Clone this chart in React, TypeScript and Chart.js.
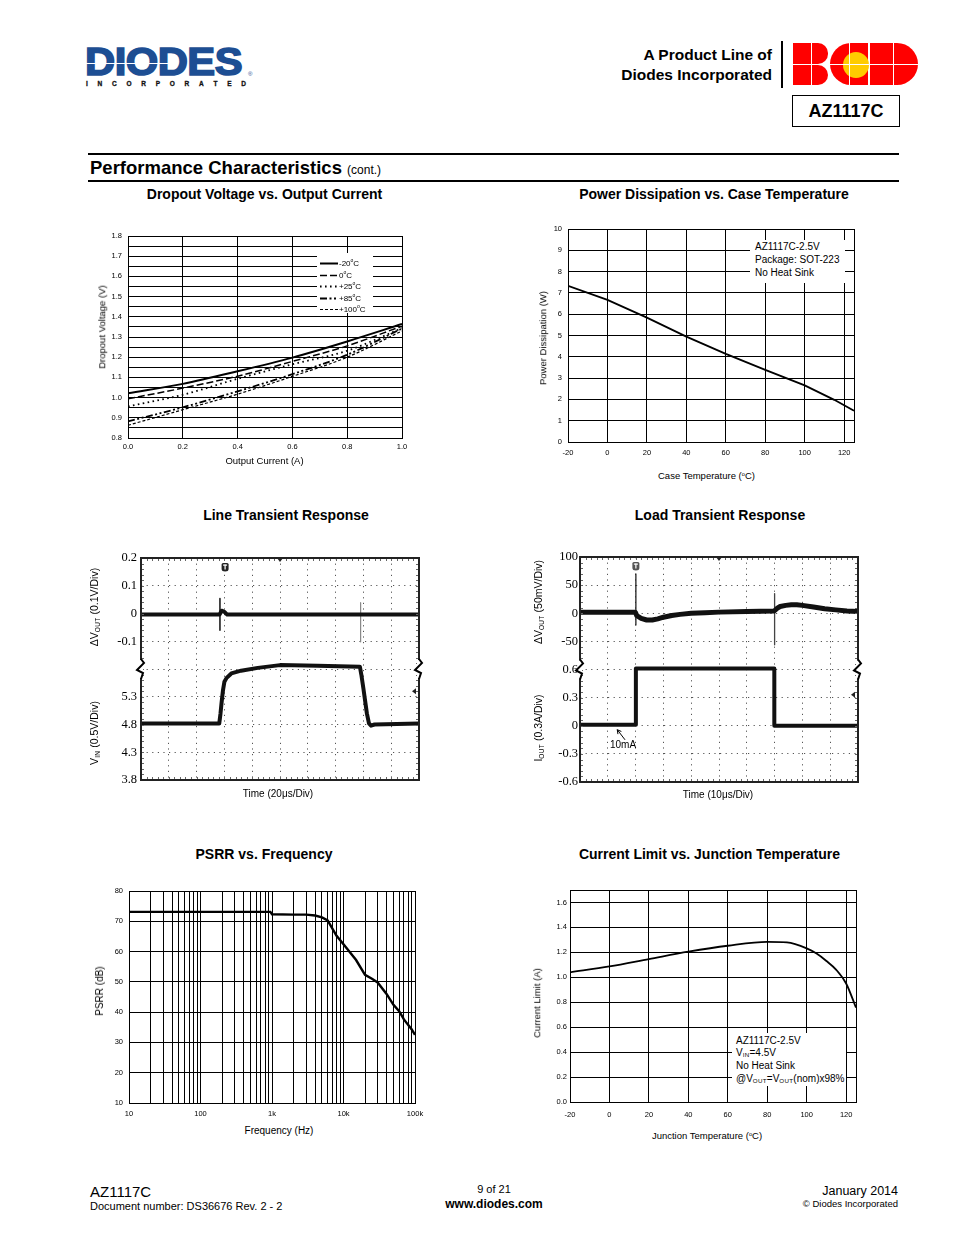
import React, { useEffect, useRef } from "react";
import { Chart, registerables } from "chart.js";

Chart.register(...registerables);

const SANS = '"Liberation Sans", Arial, Helvetica, sans-serif';
const SERIF = '"Liberation Serif", "Times New Roman", serif';
Chart.defaults.font.family = SANS;
Chart.defaults.color = "#000";

// ---------------- Dropout Voltage vs. Output Current ----------------
const dropoutCurrentA = [0, 0.2, 0.4, 0.6, 0.8, 1.0];
const dropoutM20 = [1.022, 1.068, 1.13, 1.198, 1.278, 1.364];
const dropout0 = [0.994, 1.047, 1.106, 1.179, 1.256, 1.354];
const dropout25 = [0.956, 1.014, 1.093, 1.165, 1.232, 1.344];
const dropout85 = [0.882, 0.952, 1.031, 1.116, 1.212, 1.342];
const dropout100 = [0.863, 0.94, 1.017, 1.105, 1.2, 1.33];
const dropoutLabels = ["-20°C", "0°C", "+25°C", "+85°C", "+100°C"];
const dropoutXVals = [0, 0.2, 0.4, 0.6, 0.8, 1.0];
const dropoutXLabels = ["0.0", "0.2", "0.4", "0.6", "0.8", "1.0"];
const dropoutYLabels = ["0.8", "0.9", "1.0", "1.1", "1.2", "1.3", "1.4", "1.5", "1.6", "1.7", "1.8"];

// ---------------- Power Dissipation vs. Case Temperature ----------------
const pdTempC = [-20, 0, 20, 40, 60, 80, 100, 115, 125];
const pdWatts = [7.33, 6.67, 5.84, 4.95, 4.14, 3.39, 2.66, 1.98, 1.47];
const pdXVals = [-20, 0, 20, 40, 60, 80, 100, 120];
const pdXLabels = ["-20", "0", "20", "40", "60", "80", "100", "120"];
const pdYVals = [0, 1, 2, 3, 4, 5, 6, 7, 8, 9, 10];
const pdYLabels = ["0", "1", "2", "3", "4", "5", "6", "7", "8", "9", "10"];

// ---------------- Line Transient Response (20us/div) ----------------
const lineTimeTicks = [0, 20, 40, 60, 80, 100, 120, 140, 160, 180, 200];
const scopeDivTicks = [0, 1, 2, 3, 4, 5, 6, 7, 8];
const lineYLabels = ["3.8", "4.3", "4.8", "5.3", "", "-0.1", "0", "0.1", "0.2"];
const lineDvT = [0, 56.5, 58, 60, 62, 157, 200];
const lineDvV = [-0.004, -0.004, 0.01, 0.006, -0.004, -0.004, -0.004];
const lineSpikeT = [56.8, 158];
const lineSpikeHi = [0.054, 0.039];
const lineSpikeLo = [-0.06, -0.102];
const lineVinT = [0, 56.3, 57.2, 58, 59, 60, 61.6, 65, 72, 84, 100, 127, 157.5, 158.5, 160, 161, 162.5, 164, 165.5, 168, 200];
const lineVinV = [4.82, 4.82, 5.0, 5.2, 5.42, 5.57, 5.64, 5.72, 5.77, 5.82, 5.87, 5.86, 5.84, 5.7, 5.45, 5.27, 5.0, 4.82, 4.78, 4.8, 4.82];

// ---------------- Load Transient Response (10us/div) ----------------
const loadTimeTicks = [0, 10, 20, 30, 40, 50, 60, 70, 80, 90, 100];
const loadYLabels = ["-0.6", "-0.3", "0", "0.3", "0.6", "-50", "0", "50", "100"];
const loadDvT = [0, 10, 19.9, 20.4, 21, 22, 24, 26, 28, 30, 33, 36, 40, 45, 50, 60, 69.8, 70.3, 71, 72, 74, 76, 78, 80, 84, 88, 92, 96, 100];
const loadDvMv = [2, 2, 2, -4, -6, -9, -12, -12, -10, -7, -4, -2, 0, 1, 2, 3, 4, 6, 9, 12, 14, 15, 15, 14, 11, 8, 6, 4, 3];
const loadSpikeT = [20.1, 70];
const loadSpikeHi = [70, 35];
const loadSpikeLo = [-21, -56];
const loadIT = [0, 20.1, 20.1, 69.9, 69.9, 100];
const loadIA = [0.012, 0.012, 0.61, 0.61, 0.0, 0.0];

// ---------------- PSRR vs. Frequency ----------------
const psrrFreqHz = [10, 100, 500, 950, 1000, 2000, 3000, 4000, 5000, 6000, 8000, 10000, 15000, 20000, 25000, 30000, 40000, 50000, 60000, 70000, 80000, 90000, 100000];
const psrrDb = [73.1, 73.1, 73.1, 73.1, 72.3, 72.2, 72.2, 71.9, 71.3, 70.3, 65.2, 62.4, 57.2, 52.3, 51.0, 49.8, 46.0, 42.4, 40.3, 37.6, 35.8, 34.3, 32.5];
const psrrDecades = [10, 100, 1000, 10000, 100000];
const psrrDecadeLabels = ["10", "100", "1k", "10k", "100k"];
const psrrMultiples = [1, 2, 3, 4, 5, 6, 7, 8, 9];
const psrrYVals = [10, 20, 30, 40, 50, 60, 70, 80];
const psrrYLabels = ["10", "20", "30", "40", "50", "60", "70", "80"];

// ---------------- Current Limit vs. Junction Temperature ----------------
const ilimTempC = [-20, 0, 20, 40, 60, 80, 90, 100, 105, 110, 115, 120, 125];
const ilimAmps = [1.04, 1.087, 1.146, 1.205, 1.253, 1.284, 1.28, 1.232, 1.19, 1.131, 1.06, 0.95, 0.757];
const ilimXVals = [-20, 0, 20, 40, 60, 80, 100, 120];
const ilimXLabels = ["-20", "0", "20", "40", "60", "80", "100", "120"];
const ilimYVals = [0, 0.2, 0.4, 0.6, 0.8, 1.0, 1.2, 1.4, 1.6];
const ilimYLabels = ["0.0", "0.2", "0.4", "0.6", "0.8", "1.0", "1.2", "1.4", "1.6"];

// ---------------- helpers ----------------
function labelOf(vals: number[], labels: string[], v: number): string {
  for (let i = 0; i < vals.length; i++) {
    if (Math.abs(vals[i] - v) <= 1e-6 * Math.max(1, Math.abs(vals[i]))) return labels[i];
  }
  return "";
}

function plainScale(type: string, min: number, max: number, gridVals: number[], labelVals: number[], labels: string[], pad: number, size = 7.5) {
  return {
    type,
    min,
    max,
    afterBuildTicks: (s: any) => {
      s.ticks = gridVals.map((v) => ({ value: v }));
    },
    ticks: {
      autoSkip: false,
      maxRotation: 0,
      minRotation: 0,
      padding: pad,
      color: "#000",
      font: { family: SANS, size },
      callback: (v: any) => labelOf(labelVals, labels, Number(v)),
    },
    grid: { color: "#000", lineWidth: 1, drawTicks: false },
    border: { display: false },
  };
}

const framePlugin = (color: string, width: number) => ({
  id: "frame",
  beforeDatasetsDraw(chart: any) {
    const { ctx, chartArea: a } = chart;
    ctx.save();
    ctx.strokeStyle = color;
    ctx.lineWidth = width;
    const off = width % 2 === 1 ? 0.5 : 0;
    ctx.strokeRect(Math.round(a.left) + off, Math.round(a.top) + off, Math.round(a.right - a.left), Math.round(a.bottom - a.top));
    ctx.restore();
  },
});

const dropoutLegendPlugin = {
  id: "dropoutLegend",
  afterDatasetsDraw(chart: any) {
    const { ctx, scales } = chart;
    const x = scales.x;
    const y = scales.y;
    const left = Math.round(x.getPixelForValue(0.69));
    const right = Math.round(x.getPixelForValue(0.894));
    const top = Math.round(y.getPixelForValue(1.716));
    const bottom = Math.round(y.getPixelForValue(1.419));
    ctx.save();
    ctx.fillStyle = "#fff";
    ctx.fillRect(left, top, right - left, bottom - top);
    chart.data.datasets.forEach((ds: any, i: number) => {
      const yy = Math.round(top + 10 + i * 11.5) + 0.5;
      ctx.strokeStyle = "#000";
      ctx.lineWidth = ds.borderWidth;
      ctx.setLineDash(ds.borderDash || []);
      ctx.beginPath();
      ctx.moveTo(left + 3, yy);
      ctx.lineTo(left + 21, yy);
      ctx.stroke();
      ctx.setLineDash([]);
      const parts = String(ds.label).split("°");
      ctx.fillStyle = "#000";
      ctx.textBaseline = "middle";
      ctx.font = `8px ${SANS}`;
      let tx = left + 22;
      ctx.fillText(parts[0], tx, yy);
      tx += ctx.measureText(parts[0]).width;
      ctx.font = `5px ${SANS}`;
      ctx.fillText("o", tx, yy - 3);
      tx += ctx.measureText("o").width;
      ctx.font = `8px ${SANS}`;
      ctx.fillText(parts[1] || "", tx, yy);
    });
    ctx.restore();
  },
};

function scopeDecor(trigT: number, trigColor: string, refDiv: number) {
  return {
    id: "scopeDecor",
    afterDatasetsDraw(chart: any) {
      const { ctx, chartArea: a, scales } = chart;
      const xs = scales.x;
      const ys = scales.y;
      const divW = (a.right - a.left) / 10;
      const divH = (a.bottom - a.top) / 8;
      ctx.save();
      // minor ticks along the frame
      ctx.strokeStyle = "#666";
      ctx.lineWidth = 1;
      ctx.beginPath();
      for (let i = 1; i < 50; i++) {
        const px = Math.round(a.left + (i * divW) / 5) + 0.5;
        ctx.moveTo(px, a.top);
        ctx.lineTo(px, a.top + 3);
        ctx.moveTo(px, a.bottom);
        ctx.lineTo(px, a.bottom - 3);
      }
      for (let i = 1; i < 40; i++) {
        const py = Math.round(a.top + (i * divH) / 5) + 0.5;
        ctx.moveTo(a.left, py);
        ctx.lineTo(a.left + 3, py);
        ctx.moveTo(a.right, py);
        ctx.lineTo(a.right - 3, py);
      }
      ctx.stroke();
      // frame
      ctx.strokeStyle = "#222";
      ctx.lineWidth = 2;
      ctx.strokeRect(a.left, a.top, a.right - a.left, a.bottom - a.top);
      // break marks
      const yb = ys.getPixelForValue(4);
      for (const bx of [a.left, a.right]) {
        ctx.fillStyle = "#fff";
        ctx.fillRect(bx - 2, yb - 9, 4, 18);
        ctx.strokeStyle = "#000";
        ctx.lineWidth = 2;
        ctx.beginPath();
        ctx.moveTo(bx, yb - 10);
        ctx.lineTo(bx + 3, yb - 6);
        ctx.lineTo(bx - 4, yb + 1);
        ctx.lineTo(bx + 2, yb + 4);
        ctx.lineTo(bx, yb + 10);
        ctx.stroke();
      }
      // trigger marker
      const tx = xs.getPixelForValue(trigT);
      ctx.fillStyle = trigColor;
      ctx.beginPath();
      const rx = tx - 3.5;
      const ry = a.top + 5;
      ctx.moveTo(rx + 1.5, ry);
      ctx.lineTo(rx + 5.5, ry);
      ctx.quadraticCurveTo(rx + 7, ry, rx + 7, ry + 1.5);
      ctx.lineTo(rx + 7, ry + 6);
      ctx.quadraticCurveTo(rx + 7, ry + 8.5, rx + 3.5, ry + 8.5);
      ctx.quadraticCurveTo(rx, ry + 8.5, rx, ry + 6);
      ctx.lineTo(rx, ry + 1.5);
      ctx.quadraticCurveTo(rx, ry, rx + 1.5, ry);
      ctx.fill();
      ctx.fillStyle = "#fff";
      ctx.fillRect(tx - 2, ry + 1.5, 4, 1.2);
      ctx.fillRect(tx - 0.6, ry + 1.5, 1.2, 5);
      // center marker at top
      const cx = a.left + 5 * divW;
      ctx.fillStyle = "#222";
      ctx.beginPath();
      ctx.moveTo(cx - 3, a.top);
      ctx.lineTo(cx + 3, a.top);
      ctx.lineTo(cx, a.top + 4);
      ctx.closePath();
      ctx.fill();
      // reference arrow at right
      const ry2 = ys.getPixelForValue(refDiv);
      ctx.beginPath();
      ctx.moveTo(a.right - 7, ry2);
      ctx.lineTo(a.right - 3, ry2 - 3);
      ctx.lineTo(a.right - 3, ry2 + 3);
      ctx.closePath();
      ctx.fill();
      ctx.restore();
    },
  };
}

const loadArrowPlugin = {
  id: "loadArrow",
  afterDatasetsDraw(chart: any) {
    const { ctx, scales } = chart;
    const tipX = scales.x.getPixelForValue(13.4);
    const tipY = scales.y.getPixelForValue(1.86);
    const tailX = scales.x.getPixelForValue(16.2);
    const tailY = scales.y.getPixelForValue(1.5);
    ctx.save();
    ctx.strokeStyle = "#000";
    ctx.lineWidth = 1;
    ctx.beginPath();
    ctx.moveTo(tailX, tailY);
    ctx.lineTo(tipX, tipY);
    const ang = Math.atan2(tipY - tailY, tipX - tailX);
    for (const d of [0.5, -0.5]) {
      ctx.moveTo(tipX, tipY);
      ctx.lineTo(tipX - 4.5 * Math.cos(ang + d), tipY - 4.5 * Math.sin(ang + d));
    }
    ctx.stroke();
    ctx.restore();
  },
};

function scopeScales(timeTicks: number[], yLabels: string[], labelPad: number) {
  const tMax = timeTicks[timeTicks.length - 1];
  const dash = [1.2, 4.4];
  return {
    x: {
      type: "linear",
      min: 0,
      max: tMax,
      afterBuildTicks: (s: any) => {
        s.ticks = timeTicks.map((v) => ({ value: v }));
      },
      ticks: { display: false, autoSkip: false },
      grid: { color: "#555", lineWidth: 1, drawTicks: false },
      border: { display: false, dash },
    },
    y: {
      type: "linear",
      min: 0,
      max: 8,
      afterBuildTicks: (s: any) => {
        s.ticks = scopeDivTicks.map((v) => ({ value: v }));
      },
      ticks: {
        autoSkip: false,
        padding: labelPad,
        color: "#000",
        font: { family: SERIF, size: 12.5 },
        callback: (v: any) => yLabels[Math.round(Number(v))] ?? "",
      },
      grid: { color: "#555", lineWidth: 1, drawTicks: false },
      border: { display: false, dash },
    },
  };
}

const trace = (data: any[], width: number, color = "#111") => ({
  data,
  borderColor: color,
  borderWidth: width,
  pointRadius: 0,
  tension: 0,
  fill: false,
  borderJoinStyle: "round",
});

// conversions from physical units to screen divisions
const lineDvDiv = (v: number) => 6 + v / 0.1;
const lineVinDiv = (v: number) => 2 + (v - 4.8) / 0.5;
const loadDvDiv = (mv: number) => 6 + mv / 50;
const loadIDiv = (a: number) => 2 + a / 0.3;

type Area = { x: number; y: number; w: number; h: number };
type Pad = { l: number; t: number; r: number; b: number };

function ChartBox({ area, pad, build }: { area: Area; pad: Pad; build: () => any }) {
  const ref = useRef<HTMLCanvasElement | null>(null);
  const W = area.w + pad.l + pad.r;
  const H = area.h + pad.t + pad.b;
  useEffect(() => {
    if (!ref.current) return;
    const cfg = build();
    cfg.options = cfg.options || {};
    cfg.options.responsive = false;
    cfg.options.maintainAspectRatio = false;
    cfg.options.animation = false;
    cfg.options.devicePixelRatio = 1;
    cfg.options.events = [];
    cfg.options.layout = { padding: { left: 0, top: pad.t, right: pad.r, bottom: 0 } };
    cfg.options.plugins = { ...(cfg.options.plugins || {}), legend: { display: false }, tooltip: { enabled: false } };
    cfg.options.scales.x.afterFit = (s: any) => {
      s.height = pad.b;
    };
    cfg.options.scales.y.afterFit = (s: any) => {
      s.width = pad.l;
    };
    const chart = new Chart(ref.current, cfg);
    return () => chart.destroy();
  }, []);
  return (
    <canvas
      ref={ref}
      width={W}
      height={H}
      style={{ position: "absolute", left: area.x - pad.l, top: area.y - pad.t, width: W, height: H }}
    />
  );
}

function Txt({ x, y, size, bold, align = "left", children, style }: any) {
  const tx = align === "center" ? "-50%" : align === "right" ? "-100%" : "0";
  return (
    <div
      style={{
        position: "absolute",
        left: x,
        top: y - size * 0.5,
        fontSize: size,
        lineHeight: `${size}px`,
        fontWeight: bold ? 700 : 400,
        whiteSpace: "nowrap",
        transform: `translateX(${tx})`,
        ...style,
      }}
    >
      {children}
    </div>
  );
}

function RotTxt({ cx, cy, size, children }: any) {
  return (
    <div
      style={{
        position: "absolute",
        left: cx,
        top: cy,
        fontSize: size,
        lineHeight: `${size}px`,
        whiteSpace: "nowrap",
        transform: "translate(-50%, -50%) rotate(-90deg)",
      }}
    >
      {children}
    </div>
  );
}

const Sub = ({ children }: any) => (
  <span style={{ fontSize: "0.62em", position: "relative", top: "0.3em", letterSpacing: "0.05em" }}>{children}</span>
);
const Deg = () => <span style={{ fontSize: "0.6em", position: "relative", top: "-0.55em" }}>o</span>;

export default function App() {
  const blue = "#1d4e93";
  const red = "#ff0000";
  return (
    <div
      style={{
        position: "absolute",
        left: 0,
        top: 0,
        width: 954,
        height: 1235,
        overflow: "hidden",
        background: "#fff",
        color: "#000",
        fontFamily: SANS,
      }}
    >
      {/* DIODES logo */}
      <div
        style={{
          position: "absolute",
          left: 85,
          top: 43,
          fontSize: 38,
          lineHeight: "38px",
          fontWeight: 700,
          color: blue,
          WebkitTextStroke: `1.6px ${blue}`,
          letterSpacing: -0.5,
          transform: "scaleX(1.1)",
          transformOrigin: "left top",
          whiteSpace: "nowrap",
        }}
      >
        DIODES
      </div>
      <div style={{ position: "absolute", left: 85, top: 62.5, width: 92, height: 1.5, background: "#fff" }} />
      <div style={{ position: "absolute", left: 248, top: 71, fontSize: 6, color: blue }}>®</div>
      <div
        style={{
          position: "absolute",
          left: 86,
          top: 80,
          width: 160,
          display: "flex",
          justifyContent: "space-between",
          fontSize: 6.5,
          lineHeight: "7px",
          fontWeight: 700,
          color: "#111",
          WebkitTextStroke: "0.3px #111",
        }}
      >
        {"INCORPORATED".split("").map((c, i) => (
          <span key={i}>{c}</span>
        ))}
      </div>

      {/* product line text */}
      <Txt x={772} y={55} size={15.5} bold align="right">A Product Line of</Txt>
      <Txt x={772} y={75} size={15.5} bold align="right">Diodes Incorporated</Txt>
      <div style={{ position: "absolute", left: 781, top: 41, width: 1.5, height: 47, background: "#000" }} />

      {/* BCD logo */}
      <div style={{ position: "absolute", left: 793, top: 43, width: 35, height: 20.5, background: red, borderRadius: "0 10px 10px 0" }} />
      <div style={{ position: "absolute", left: 793, top: 64.5, width: 35, height: 20.5, background: red, borderRadius: "0 10px 10px 0" }} />
      <div style={{ position: "absolute", left: 811, top: 43, width: 1, height: 42, background: "#fff" }} />
      <div style={{ position: "absolute", left: 830, top: 43, width: 38, height: 42, background: red, borderRadius: "21px 0 0 21px" }} />
      <div style={{ position: "absolute", left: 843, top: 52, width: 26, height: 26, background: "#ffcc00", borderRadius: "50%" }} />
      <div style={{ position: "absolute", left: 849, top: 43, width: 1, height: 42, background: "#fff" }} />
      <div style={{ position: "absolute", left: 870, top: 43, width: 48, height: 42, background: red, borderRadius: "0 21px 21px 0" }} />
      <div style={{ position: "absolute", left: 893, top: 43, width: 1, height: 42, background: "#fff" }} />
      <div style={{ position: "absolute", left: 793, top: 63.5, width: 125, height: 1, background: "#fff" }} />

      {/* part box */}
      <div
        style={{
          position: "absolute",
          left: 792,
          top: 95,
          width: 106,
          height: 30,
          border: "1.5px solid #000",
          display: "flex",
          alignItems: "center",
          justifyContent: "center",
          fontSize: 18,
          fontWeight: 700,
        }}
      >
        AZ1117C
      </div>

      {/* section heading */}
      <div style={{ position: "absolute", left: 88, top: 153, width: 811, height: 2, background: "#000" }} />
      <div style={{ position: "absolute", left: 88, top: 180, width: 811, height: 1.5, background: "#000" }} />
      <div style={{ position: "absolute", left: 90, top: 158, fontSize: 18.5, lineHeight: "20px", fontWeight: 700, whiteSpace: "nowrap" }}>
        Performance Characteristics <span style={{ fontSize: 12, fontWeight: 400 }}>(cont.)</span>
      </div>

      {/* chart titles */}
      <Txt x={264.5} y={194} size={14} bold align="center">Dropout Voltage vs. Output Current</Txt>
      <Txt x={714} y={194} size={14} bold align="center">Power Dissipation vs. Case Temperature</Txt>
      <Txt x={286} y={515} size={14} bold align="center">Line Transient Response</Txt>
      <Txt x={720} y={515} size={14} bold align="center">Load Transient Response</Txt>
      <Txt x={264} y={854} size={14} bold align="center">PSRR vs. Frequency</Txt>
      <Txt x={709.5} y={854} size={14} bold align="center">Current Limit vs. Junction Temperature</Txt>

      {/* Chart 1: Dropout */}
      <ChartBox
        area={{ x: 128, y: 236, w: 274, h: 202 }}
        pad={{ l: 30, t: 16, r: 14, b: 20 }}
        build={() => {
          const series = [dropoutM20, dropout0, dropout25, dropout85, dropout100];
          const styles = [
            { w: 2, dash: [] as number[] },
            { w: 1.5, dash: [7, 3] },
            { w: 1.8, dash: [1.6, 3.4] },
            { w: 1.8, dash: [7, 2.5, 2, 2.5, 2, 2.5] },
            { w: 1.2, dash: [3, 2] },
          ];
          const yVals = dropoutYLabels.map(Number);
          const yGrid = yVals.flatMap((v, i) => (i < yVals.length - 1 ? [v, v + 0.05] : [v]));
          return {
            type: "line",
            data: {
              datasets: series.map((arr, i) => ({
                label: dropoutLabels[i],
                data: dropoutCurrentA.map((x, j) => ({ x, y: arr[j] })),
                borderColor: "#000",
                borderWidth: styles[i].w,
                borderDash: styles[i].dash,
                pointRadius: 0,
                cubicInterpolationMode: "monotone",
                fill: false,
              })),
            },
            options: {
              scales: {
                x: plainScale("linear", 0, 1, dropoutXVals, dropoutXVals, dropoutXLabels, 4),
                y: plainScale("linear", 0.8, 1.8, yGrid, yVals, dropoutYLabels, 6),
              },
            },
            plugins: [framePlugin("#000", 1), dropoutLegendPlugin],
          };
        }}
      />
      <RotTxt cx={102} cy={327} size={9.5}>Dropout Voltage (V)</RotTxt>
      <Txt x={264.5} y={461} size={9.5} align="center">Output Current (A)</Txt>

      {/* Chart 2: Power dissipation */}
      <ChartBox
        area={{ x: 568, y: 229, w: 286, h: 213 }}
        pad={{ l: 30, t: 16, r: 14, b: 20 }}
        build={() => ({
          type: "line",
          data: {
            datasets: [
              {
                data: pdTempC.map((x, i) => ({ x, y: pdWatts[i] })),
                borderColor: "#000",
                borderWidth: 1.8,
                pointRadius: 0,
                tension: 0,
                fill: false,
              },
            ],
          },
          options: {
            scales: {
              x: plainScale("linear", -20, 125, pdXVals, pdXVals, pdXLabels, 6),
              y: plainScale("linear", 0, 10, pdYVals, pdYVals, pdYLabels, 6),
            },
          },
          plugins: [framePlugin("#000", 1)],
        })}
      />
      <div style={{ position: "absolute", left: 750, top: 240, width: 95, height: 43, background: "#fff" }} />
      <Txt x={755} y={247} size={10}>AZ1117C-2.5V</Txt>
      <Txt x={755} y={259.5} size={10}>Package: SOT-223</Txt>
      <Txt x={755} y={272.5} size={10}>No Heat Sink</Txt>
      <RotTxt cx={542.5} cy={338} size={9.5}>Power Dissipation (W)</RotTxt>
      <Txt x={706.5} y={476} size={9.5} align="center">
        Case Temperature (<Deg />C)
      </Txt>

      {/* Chart 3: Line transient */}
      <ChartBox
        area={{ x: 141, y: 558, w: 278, h: 222 }}
        pad={{ l: 40, t: 16, r: 10, b: 16 }}
        build={() => ({
          type: "line",
          data: {
            datasets: [
              trace(lineDvT.map((t, i) => ({ x: t, y: lineDvDiv(lineDvV[i]) })), 4),
              trace(lineVinT.map((t, i) => ({ x: t, y: lineVinDiv(lineVinV[i]) })), 4),
              trace([{ x: lineSpikeT[0], y: lineDvDiv(lineSpikeHi[0]) }, { x: lineSpikeT[0], y: lineDvDiv(lineSpikeLo[0]) }], 1.5, "#111"),
              trace([{ x: lineSpikeT[1], y: lineDvDiv(lineSpikeHi[1]) }, { x: lineSpikeT[1], y: lineDvDiv(lineSpikeLo[1]) }], 1.2, "#888"),
            ],
          },
          options: { scales: scopeScales(lineTimeTicks, lineYLabels, 4) },
          plugins: [scopeDecor(60.5, "#222", 3.2)],
        })}
      />
      <RotTxt cx={95} cy={607} size={10.5}>
        ΔV<Sub>OUT</Sub> (0.1V/Div)
      </RotTxt>
      <RotTxt cx={95} cy={733} size={10.5}>
        V<Sub>IN</Sub> (0.5V/Div)
      </RotTxt>
      <Txt x={278} y={794} size={10} align="center">Time (20μs/Div)</Txt>

      {/* Chart 4: Load transient */}
      <ChartBox
        area={{ x: 580, y: 557, w: 278, h: 225 }}
        pad={{ l: 40, t: 16, r: 10, b: 16 }}
        build={() => ({
          type: "line",
          data: {
            datasets: [
              trace(loadDvT.map((t, i) => ({ x: t, y: loadDvDiv(loadDvMv[i]) })), 5),
              trace(loadIT.map((t, i) => ({ x: t, y: loadIDiv(loadIA[i]) })), 4),
              trace([{ x: loadSpikeT[0], y: loadDvDiv(loadSpikeHi[0]) }, { x: loadSpikeT[0], y: loadDvDiv(loadSpikeLo[0]) }], 1.3, "#222"),
              trace([{ x: loadSpikeT[1], y: loadDvDiv(loadSpikeHi[1]) }, { x: loadSpikeT[1], y: loadDvDiv(loadSpikeLo[1]) }], 1.3, "#444"),
            ],
          },
          options: { scales: scopeScales(loadTimeTicks, loadYLabels, 2) },
          plugins: [scopeDecor(20.1, "#555", 3.1), loadArrowPlugin],
        })}
      />
      <Txt x={623} y={745} size={10} align="center">10mA</Txt>
      <RotTxt cx={539} cy={602} size={10.5}>
        ΔV<Sub>OUT</Sub> (50mV/Div)
      </RotTxt>
      <RotTxt cx={539} cy={728} size={10.5}>
        I<Sub>OUT</Sub> (0.3A/Div)
      </RotTxt>
      <Txt x={718} y={795} size={10} align="center">Time (10μs/Div)</Txt>

      {/* Chart 5: PSRR */}
      <ChartBox
        area={{ x: 129, y: 891, w: 286, h: 212 }}
        pad={{ l: 30, t: 16, r: 16, b: 20 }}
        build={() => {
          const xGrid = psrrDecades.slice(0, -1).flatMap((d) => psrrMultiples.map((k) => d * k)).concat([psrrDecades[psrrDecades.length - 1]]);
          return {
            type: "line",
            data: {
              datasets: [
                {
                  data: psrrFreqHz.map((x, i) => ({ x, y: psrrDb[i] })),
                  borderColor: "#000",
                  borderWidth: 2.4,
                  pointRadius: 0,
                  tension: 0,
                  fill: false,
                },
              ],
            },
            options: {
              scales: {
                x: plainScale("logarithmic", 10, 100000, xGrid, psrrDecades, psrrDecadeLabels, 6),
                y: plainScale("linear", 10, 80, psrrYVals, psrrYVals, psrrYLabels, 6),
              },
            },
            plugins: [framePlugin("#000", 1)],
          };
        }}
      />
      <RotTxt cx={100} cy={991} size={10}>PSRR (dB)</RotTxt>
      <Txt x={279} y={1131} size={10} align="center">Frequency (Hz)</Txt>

      {/* Chart 6: Current limit */}
      <ChartBox
        area={{ x: 570, y: 890, w: 286, h: 212 }}
        pad={{ l: 30, t: 16, r: 14, b: 20 }}
        build={() => ({
          type: "line",
          data: {
            datasets: [
              {
                data: ilimTempC.map((x, i) => ({ x, y: ilimAmps[i] })),
                borderColor: "#000",
                borderWidth: 1.8,
                pointRadius: 0,
                cubicInterpolationMode: "monotone",
                fill: false,
              },
            ],
          },
          options: {
            scales: {
              x: plainScale("linear", -20, 125, ilimXVals, ilimXVals, ilimXLabels, 8),
              y: plainScale("linear", 0, 1.7, ilimYVals, ilimYVals, ilimYLabels, 3),
            },
          },
          plugins: [framePlugin("#000", 1)],
        })}
      />
      <div style={{ position: "absolute", left: 732, top: 1033, width: 114, height: 53, background: "#fff" }} />
      <Txt x={736} y={1041} size={10}>AZ1117C-2.5V</Txt>
      <Txt x={736} y={1052.5} size={10}>
        V<Sub>IN</Sub>=4.5V
      </Txt>
      <Txt x={736} y={1066} size={10}>No Heat Sink</Txt>
      <Txt x={736} y={1078.5} size={10}>
        @V<Sub>OUT</Sub>=V<Sub>OUT</Sub>(nom)x98%
      </Txt>
      <RotTxt cx={536.5} cy={1003} size={9.5}>Current Limit (A)</RotTxt>
      <Txt x={707} y={1136} size={9.5} align="center">
        Junction Temperature (<Deg />C)
      </Txt>

      {/* footer */}
      <Txt x={90} y={1191} size={15}>AZ1117C</Txt>
      <Txt x={90} y={1206} size={11}>Document number: DS36676 Rev. 2 - 2</Txt>
      <Txt x={494} y={1189} size={11} align="center">9 of 21</Txt>
      <Txt x={494} y={1204} size={12} bold align="center">www.diodes.com</Txt>
      <Txt x={898} y={1191} size={12.5} align="right">January 2014</Txt>
      <Txt x={898} y={1204} size={9.5} align="right">© Diodes Incorporated</Txt>
    </div>
  );
}
